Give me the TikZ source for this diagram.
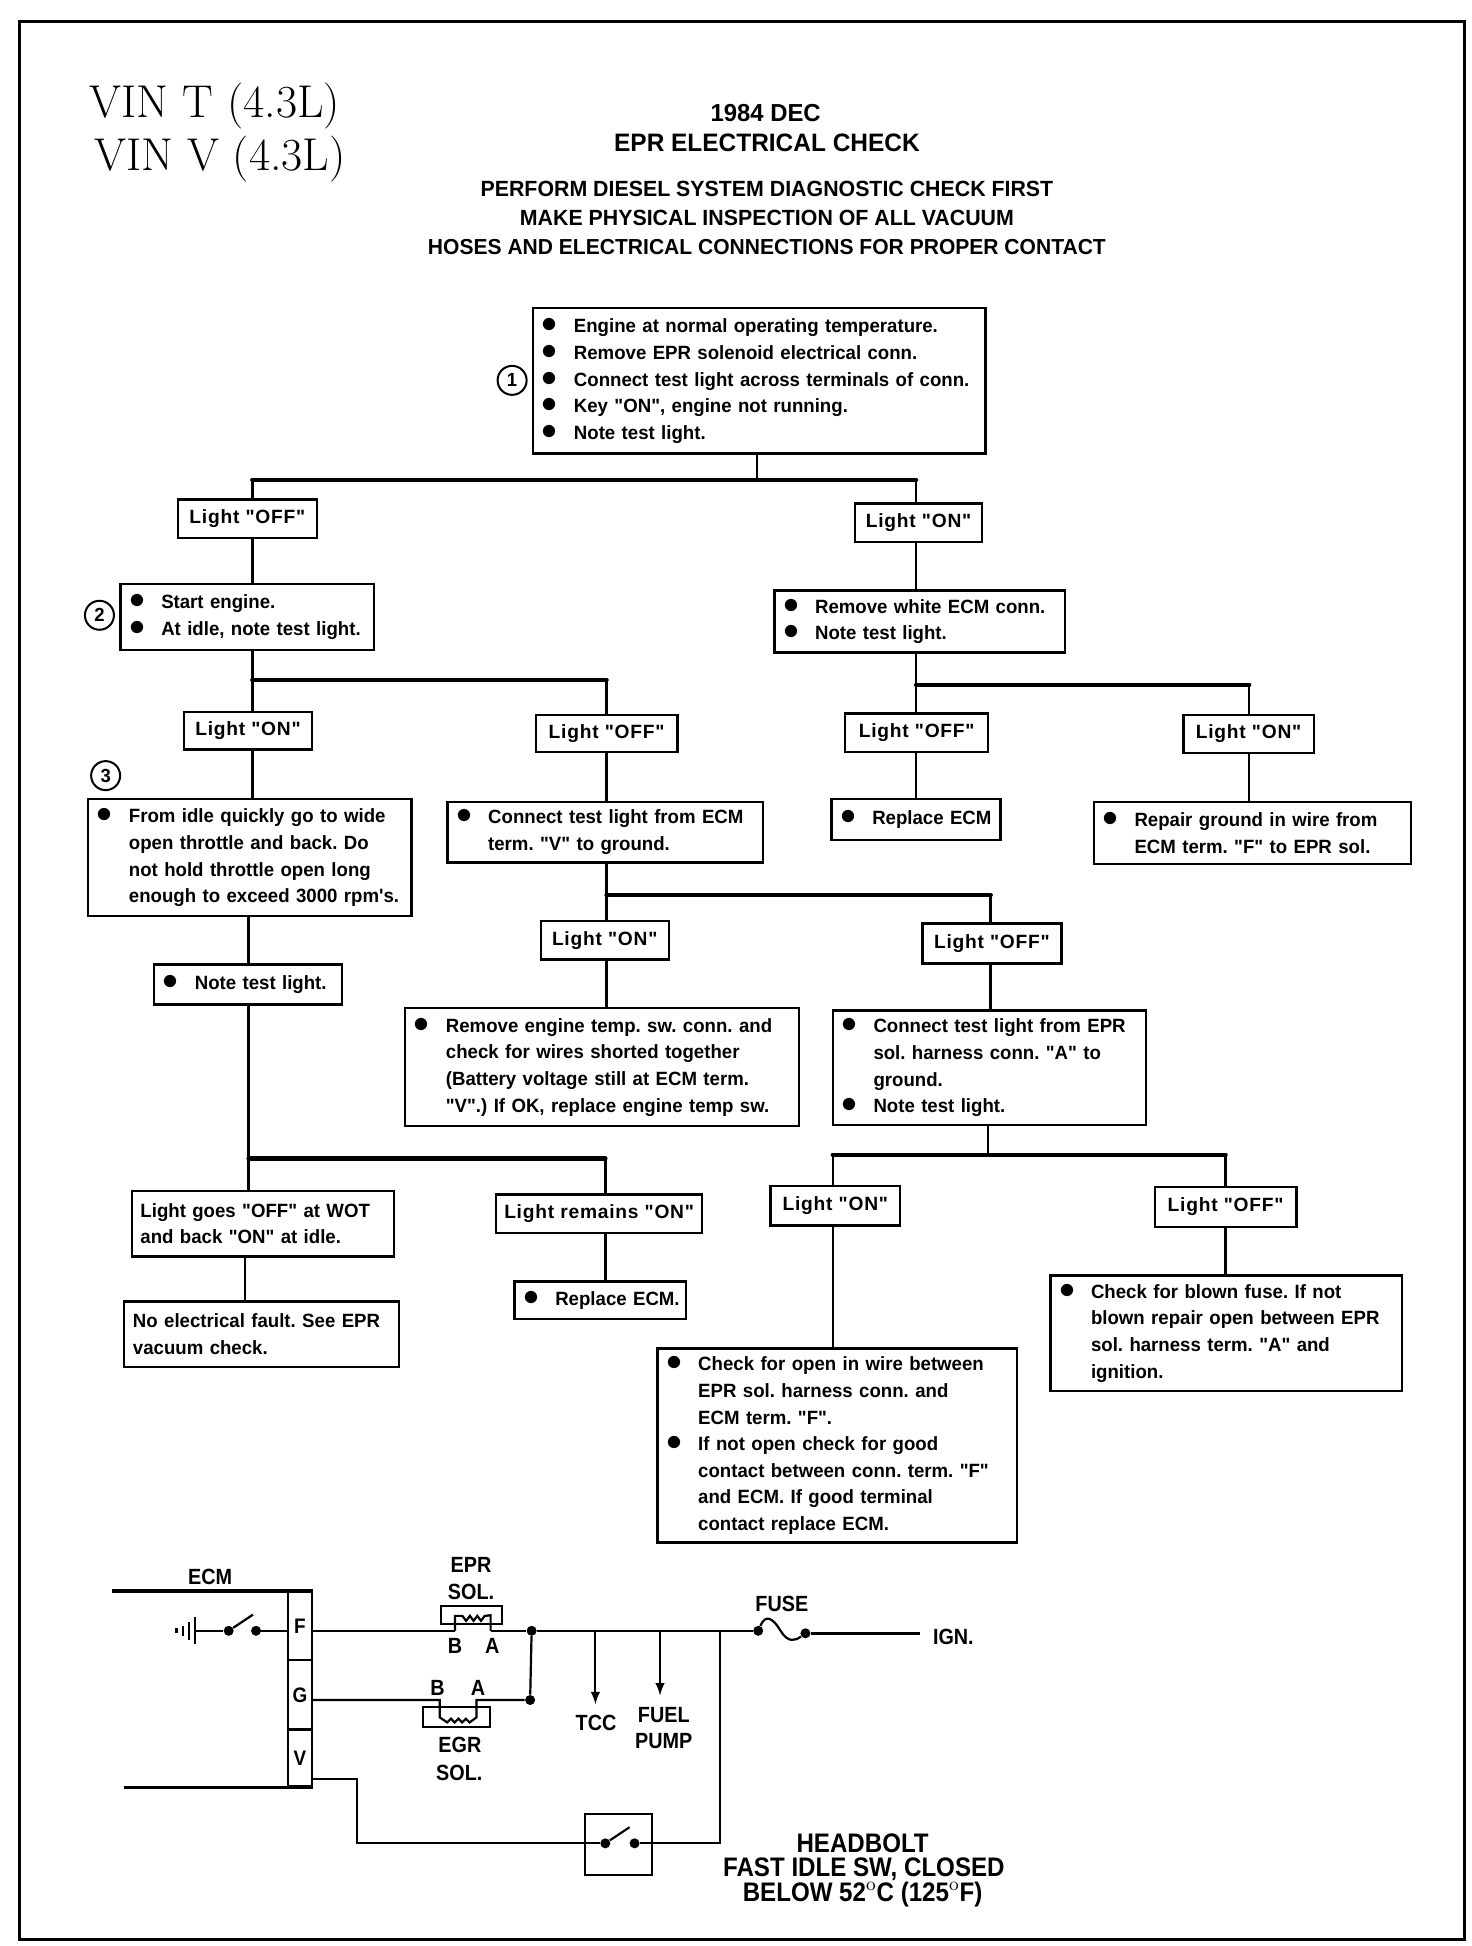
\documentclass[tikz,border=0pt]{standalone}
\usepackage{amsmath}
\usepackage{fontspec}
\newfontfamily\stepfont[FakeStretch=0.97]{Liberation Sans}
\newfontfamily\lightfont[FakeStretch=1,LetterSpace=4]{Liberation Sans}
\newfontfamily\wirefont[FakeStretch=0.9]{Liberation Sans}
\usetikzlibrary{positioning}
\newcommand{\pad}{\hspace*{2.85pt}}
\newcommand{\bul}{\pad\makebox[16pt][l]{\scalebox{1.6}{$\bullet$}}}
\newcommand{\nobul}{\pad\hspace*{16pt}}
\tikzset{
	stepbox/.style 2 args={draw,line width=1.2pt,rectangle,text width=#1*0.6215pt-2*1.5pt,minimum height=#2*0.6215pt,
		inner xsep=1.5pt,inner ysep=0pt,align=left,font=\frenchspacing\stepfont\bfseries\fontsize{9.6}{13.3}\selectfont},
	lightbox/.style 2 args={draw,line width=1.2pt,rectangle,minimum width=#1*0.6215pt,minimum height=#2*0.6215pt,
		inner sep=0pt,align=center,font=\lightfont\bfseries\fontsize{9.6}{13.3}\selectfont},
	stepnum/.style={draw,circle,line width=1pt,minimum size=14.5pt,inner sep=0pt,font=\stepfont\bfseries\fontsize{9.5}{10}\selectfont},
	pinbox/.style={draw,line width=1pt,minimum width=12.2pt,inner sep=0pt,font=\wirefont\bfseries\fontsize{10.5}{13}\selectfont},
	stem/.style={line width=1.2pt},
	bar/.style={line width=2.2pt,line cap=round},
	wire/.style={line width=1.1pt},
	wirelabel/.style={font=\wirefont\bfseries\fontsize{11}{13}\selectfont,inner sep=0pt,align=center},
	footlabel/.style={font=\wirefont\bfseries\fontsize{13.4}{13.4}\selectfont,inner sep=0pt,align=center},
	headlabel/.style={font=\frenchspacing\stepfont\bfseries\fontsize{#1}{#1}\selectfont,inner sep=0pt,align=center},
	vinlabel/.style={font=\fontsize{23}{26}\selectfont,inner sep=0pt},
	wiredot/.style={circle,fill,inner sep=0pt,minimum size=5pt},
}
\begin{document}
\begin{tikzpicture}[x=0.6215pt,y=-0.6215pt]
	\useasboundingbox (0,0) rectangle (1184.2,1565.6);
	\draw[line width=1.5pt] (16,17) rectangle (1178.5,1560);

	% heading
	\node[vinlabel] (vint) at (173,85) {VIN T (4.3L)};
	\node[vinlabel] (vinv) at (177,128) {VIN V (4.3L)};
	\node[headlabel=12.3] (year) at (616,91) {1984 DEC};
	\node[headlabel=12.6] (title) at (617,115) {EPR ELECTRICAL CHECK};
	\node[headlabel=11] (perform) at (617,152) {PERFORM DIESEL SYSTEM DIAGNOSTIC CHECK FIRST};
	\node[headlabel=11] (inspect) at (617,175) {MAKE PHYSICAL INSPECTION OF ALL VACUUM};
	\node[headlabel=10.85] (hoses) at (617,199) {HOSES AND ELECTRICAL CONNECTIONS FOR PROPER CONTACT};

	% flow chart boxes
	\node[stepbox={364}{117}] (check) at (611,306.5) {\bul Engine at normal operating temperature.\\\bul Remove EPR solenoid electrical conn.\\\bul Connect test light across terminals of conn.\\\bul Key "ON", engine not running.\\\bul Note test light.};
	\node[stepnum] (numa) at (412,306) {1};
	\node[lightbox={112}{31}] (offa) at (199,417.5) {Light "OFF"};
	\node[lightbox={102}{31}] (ona) at (739,420.5) {Light "ON"};
	\node[stepbox={204}{53}] (idle) at (199,496.5) {\bul Start engine.\\\bul At idle, note test light.};
	\node[stepnum] (numb) at (80,495) {2};
	\node[stepbox={234}{50}] (white) at (740,500) {\bul Remove white ECM conn.\\\bul Note test light.};
	\node[lightbox={103}{30}] (onb) at (199.5,588) {Light "ON"};
	\node[lightbox={114}{30}] (offb) at (488,590) {Light "OFF"};
	\node[lightbox={115}{31}] (offc) at (737.5,589.5) {Light "OFF"};
	\node[lightbox={105}{31}] (onc) at (1004.5,590.5) {Light "ON"};
	\node[stepnum] (numc) at (85,624) {3};
	\node[stepbox={260}{94}] (quick) at (201,690) {\bul From idle quickly go to wide\\\nobul open throttle and back. Do\\\nobul not hold throttle open long\\\nobul enough to exceed 3000 rpm's.};
	\node[stepbox={254}{49}] (term) at (487,669.5) {\bul Connect test light from ECM\\\nobul term. "V" to ground.};
	\node[stepbox={136}{33}] (ecma) at (737,659.5) {\bul Replace ECM};
	\node[stepbox={255}{50}] (ground) at (1007.5,670) {\bul Repair ground in wire from\\\nobul ECM term. "F" to EPR sol.};
	\node[lightbox={103}{31}] (ond) at (486.5,756.5) {Light "ON"};
	\node[lightbox={112}{32}] (offd) at (798,759) {Light "OFF"};
	\node[stepbox={151}{32}] (note) at (199.5,792) {\bul Note test light.};
	\node[stepbox={317}{95}] (temp) at (484.5,858.5) {\bul Remove engine temp. sw. conn. and\\\nobul check for wires shorted together\\\nobul (Battery voltage still at ECM term.\\\nobul "V".) If OK, replace engine temp sw.};
	\node[stepbox={252}{92}] (harness) at (796,859) {\bul Connect test light from EPR\\\nobul sol. harness conn. "A" to\\\nobul ground.\\\bul Note test light.};
	\node[stepbox={211}{53}] (goes) at (211.5,984.5) {\pad Light goes "OFF" at WOT\\\pad and back "ON" at idle.};
	\node[lightbox={166}{31}] (remains) at (482,976.5) {Light remains "ON"};
	\node[lightbox={104}{32}] (one) at (672,970) {Light "ON"};
	\node[lightbox={114}{32}] (offe) at (986,971) {Light "OFF"};
	\node[stepbox={138}{30}] (ecmb) at (483,1046) {\bul Replace ECM.};
	\node[stepbox={221}{53}] (fault) at (210.5,1073.5) {\pad No electrical fault. See EPR\\\pad vacuum check.};
	\node[stepbox={283}{93}] (blown) at (986.5,1072.5) {\bul Check for blown fuse. If not\\\nobul blown repair open between EPR\\\nobul sol. harness term. "A" and\\\nobul ignition.};
	\node[stepbox={289}{156}] (open) at (673.5,1163) {\bul Check for open in wire between\\\nobul EPR sol. harness conn. and\\\nobul ECM term. "F".\\\bul If not open check for good\\\nobul contact between conn. term. "F"\\\nobul and ECM. If good terminal\\\nobul contact replace ECM.};

	% junctions of the chart
	\coordinate (ja) at (609,386);
	\coordinate (jal) at (203,386);
	\coordinate (jar) at (737,386);
	\coordinate (jb) at (203,547);
	\coordinate (jbr) at (488,547);
	\coordinate (jc) at (737,551);
	\coordinate (jcr) at (1005,551);
	\coordinate (jd) at (488,720);
	\coordinate (jdr) at (797,720);
	\coordinate (je) at (200,932);
	\coordinate (jer) at (487,932);
	\coordinate (jf) at (795,929);
	\coordinate (jfl) at (670,929);
	\coordinate (jfr) at (986,929);
	\coordinate (jg) at (197,1030);

	\draw[bar] (jal) -- (jar);
	\draw[bar] (jb) -- (jbr);
	\draw[bar] (jc) -- (jcr);
	\draw[bar] (jd) -- (jdr);
	\draw[bar] (je) -- (jer);
	\draw[bar] (jfl) -- (jfr);

	\draw[stem] (ja |- check.south) -- (ja);
	\draw[stem] (jal) -- (jal |- offa.north);
	\draw[stem] (jar) -- (jar |- ona.north);
	\draw[stem] (jal |- offa.south) -- (jal |- idle.north);
	\draw[stem] (jar |- ona.south) -- (jar |- white.north);
	\draw[stem] (jb |- idle.south) -- (jb) -- (jb |- onb.north);
	\draw[stem] (jbr) -- (jbr |- offb.north);
	\draw[stem] (jc |- white.south) -- (jc) -- (jc |- offc.north);
	\draw[stem] (jcr) -- (jcr |- onc.north);
	\draw[stem] (jc |- offc.south) -- (jc |- ecma.north);
	\draw[stem] (jcr |- onc.south) -- (jcr |- ground.north);
	\draw[stem] (jb |- onb.south) -- (jb |- quick.north);
	\draw[stem] (je |- quick.south) -- (je |- note.north);
	\draw[stem] (je |- note.south) -- (je) -- (je |- goes.north);
	\draw[stem] (jer) -- (jer |- remains.north);
	\draw[stem] (jbr |- offb.south) -- (jbr |- term.north);
	\draw[stem] (jd |- term.south) -- (jd) -- (jd |- ond.north);
	\draw[stem] (jdr) -- (jdr |- offd.north);
	\draw[stem] (jd |- ond.south) -- (jd |- temp.north);
	\draw[stem] (jdr |- offd.south) -- (jdr |- harness.north);
	\draw[stem] (jf |- harness.south) -- (jf);
	\draw[stem] (jfl) -- (jfl |- one.north);
	\draw[stem] (jfr) -- (jfr |- offe.north);
	\draw[stem] (jfl |- one.south) -- (jfl |- open.north);
	\draw[stem] (jfr |- offe.south) -- (jfr |- blown.north);
	\draw[stem] (jg |- goes.south) -- (jg |- fault.north);
	\draw[stem] (jer |- remains.south) -- (jer |- ecmb.north);

	% wiring diagram
	\node[wirelabel] (ecm) at (169,1269) {ECM};
	\node[pinbox,minimum height=34.5pt] (pinf) at (241.3,1308) {F};
	\node[pinbox,minimum height=34.5pt] (ping) at (241.3,1363.5) {G};
	\node[pinbox,minimum height=28pt] (pinv) at (241.3,1414.5) {V};
	\coordinate (ecmtop) at (90,1280);
	\coordinate (ecmbot) at (100,1438);
	\draw[line width=1.6pt] (ecmtop) -- (ecmtop -| pinf.north east);
	\draw[line width=1.9pt] (ecmbot) -- (ecmbot -| pinv.south east);

	% ground and ECM switch
	\node[wiredot] (swa) at (184,1312) {};
	\node[wiredot] (swb) at (206,1312) {};
	\coordinate (gnd) at (157,1312);
	\coordinate (blade) at (203.5,1299);
	\draw[wire] (gnd) -- (swa);
	\draw[wire] (swa) -- (blade);
	\draw[wire] (swb) -- (swb -| pinf.west);
	\draw[wire] (gnd) ++(0,-11) -- ++(0,22);
	\draw[wire] (gnd) ++(-5,-7) -- ++(0,14);
	\draw[wire] (gnd) ++(-10,-4) -- ++(0,8);
	\draw[wire] (gnd) ++(-15,-2) -- ++(0,4);

	% EPR solenoid
	\node[draw,line width=1pt,minimum width=30.6pt,minimum height=9.2pt,inner sep=0pt] (eprsol) at (379.5,1299.5) {};
	\node[wirelabel] (eprname) at (379,1259) {EPR};
	\node[wirelabel] (eprsolname) at (379,1281) {SOL.};
	\node[wirelabel] (eprb) at (366,1324.5) {B};
	\node[wirelabel] (epra) at (396,1324.5) {A};
	\coordinate (epri) at (366,1312);
	\coordinate (epro) at (394.7,1312);
	\draw[wire] (epri) -- ++(0,-12) -- ++(6,0) -- ++(3,4) -- ++(3,-4) -- ++(3,4) -- ++(3,-4) -- ++(3,4) -- ++(3,-4) -- (epro |- eprsol.center) -- (epro);
	\node[wiredot] (dota) at (427.7,1312) {};
	\node[wiredot] (dotb) at (426.5,1367.7) {};
	\node[wiredot] (fusea) at (610,1312) {};
	\node[wiredot] (fuseb) at (648,1314) {};
	\coordinate (ignend) at (740,1314);
	\node[wirelabel] (fuse) at (629,1290) {FUSE};
	\node[wirelabel] (ign) at (767,1317) {IGN.};
	\draw[wire] (pinf.east |- epri) -- (epri);
	\draw[wire] (epro) -- (dota) -- (fusea);
	\draw[wire] (fusea) .. controls (616,1298) and (622,1302) .. (628,1312) .. controls (634,1322) and (640,1320) .. (fuseb);
	\draw[line width=1.5pt] (fuseb) -- (ignend);
	\draw[wire] (dota) -- (dotb);

	% EGR solenoid
	\node[draw,line width=1pt,minimum width=33.2pt,minimum height=10pt,inner sep=0pt] (egrsol) at (367.2,1381.7) {};
	\node[wirelabel] (egrb) at (352,1358) {B};
	\node[wirelabel] (egra) at (384.5,1358) {A};
	\node[wirelabel] (egrname) at (370,1404) {EGR};
	\node[wirelabel] (egrsolname) at (369.5,1426) {SOL.};
	\coordinate (egri) at (353.8,1367.7);
	\coordinate (egro) at (383.3,1367.7);
	\draw[wire] (ping.east |- egri) -- (egri) -- ++(0,14) -- ++(6,4) -- ++(3,-3) -- ++(3,3) -- ++(3,-3) -- ++(3,3) -- ++(3,-3) -- ++(3,3) -- (383.3,1381.7) -- (egro) -- (dotb);

	% branches
	\coordinate (tcctop) at (479,1312);
	\coordinate (fueltop) at (531,1312);
	\coordinate (swtop) at (579.5,1312);
	\node[wirelabel] (tcc) at (479.5,1386) {TCC};
	\node[wirelabel] (fuel) at (534,1380) {FUEL};
	\node[wirelabel] (pump) at (534,1401) {PUMP};
	\draw[wire,-latex] (tcctop) -- (tcctop |- 0,1371);
	\draw[wire,-latex] (fueltop) -- (fueltop |- 0,1364);

	% headbolt switch
	\node[draw,line width=1pt,minimum width=33.7pt,minimum height=30.5pt,inner sep=0pt] (headsw) at (497.5,1484) {};
	\node[wiredot] (swc) at (487,1483) {};
	\node[wiredot] (swd) at (510.5,1483) {};
	\coordinate (bladeb) at (506.5,1470);
	\coordinate (vwire) at (287.5,1431);
	\draw[wire] (swc) -- (bladeb);
	\draw[wire] (pinv.east |- vwire) -- (vwire) |- (swc);
	\draw[wire] (swd) -| (swtop);
	\node[footlabel] (headbolt) at (694,1483) {HEADBOLT};
	\node[footlabel] (fastidle) at (695,1504) {FAST IDLE SW, CLOSED};
	\node[footlabel] (below) at (694,1524) {BELOW 52$^{\mathrm{o}}$C (125$^{\mathrm{o}}$F)};
\end{tikzpicture}
\end{document}
